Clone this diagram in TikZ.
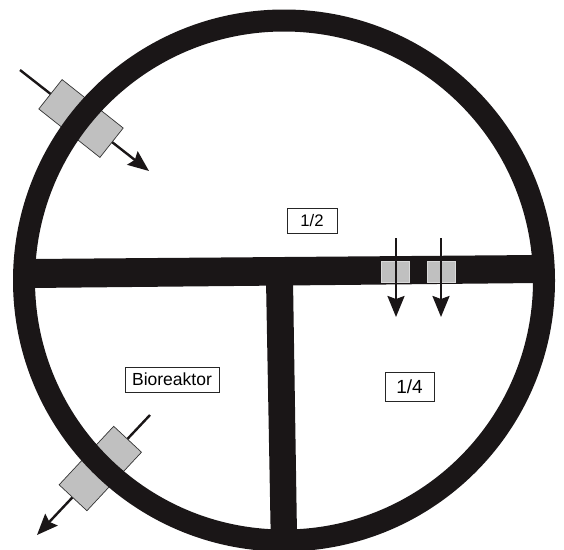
\documentclass[tikz,border=0pt]{standalone}
\usepackage{fontspec}
\setmainfont{Liberation Sans}
\usetikzlibrary{arrows.meta, positioning}
\definecolor{wallcol}{HTML}{1A1617}
\definecolor{portcol}{HTML}{C0C0C0}
\tikzset{
  labelbox/.style={draw=black!85,fill=white,line width=0.8pt,inner sep=0pt},
  portbox/.style={draw=black!80,fill=portcol,line width=0.7pt,inner sep=0pt,minimum width=78pt,minimum height=37.5pt},
  portflat/.style={draw=white!85!black,fill=portcol,line width=1pt,inner sep=0pt,minimum width=28pt,minimum height=21.5pt},
  flowline/.style={draw=wallcol,line width=2.4pt,-{Stealth[length=21pt,width=17pt,inset=3pt]}}
}
\begin{document}
\begin{tikzpicture}[x=1pt,y=1pt]%
  \useasboundingbox (0,-549) rectangle (564,0);
  % diagonal ports, behind the wall
  \coordinate (inA) at (20,-70);
  \coordinate (outA) at (149,-171);
  \coordinate (inB) at (150,-415);
  \coordinate (outB) at (37,-535);
  \draw[flowline] (inA) -- (outA);
  \draw[flowline] (inB) -- (outB);
  \node[portbox,rotate=-38.4] (portA) at (81,-118.5) {};
  \node[portbox,rotate=47,minimum width=80pt,minimum height=38pt] (portB) at (100.3,-468.5) {};
  % reactor wall
  \draw[wallcol,line width=22pt] (284,-280.5) circle (260);
  \fill[wallcol] (30,-259)--(538,-255)--(538,-283)--(30,-288)--cycle;
  \fill[wallcol] (266,-280)--(293,-280)--(297,-535)--(270.7,-535)--cycle;
  % ports in the partition
  \node[portflat] (portC) at (395.5,-272) {};
  \node[portflat] (portD) at (441,-272) {};
  \coordinate (inC) at (396,-238);
  \coordinate (outC) at (396,-317);
  \coordinate (inD) at (441,-238);
  \coordinate (outD) at (441,-317);
  \draw[flowline] (inC) -- (outC);
  \draw[flowline] (inD) -- (outD);
  % labels
  \node[labelbox,minimum width=50pt,minimum height=25pt,font=\fontsize{16.7}{18}\selectfont] (half) at (312,-220.5) {1/2};
  \node[labelbox,minimum width=94pt,minimum height=25pt,font=\fontsize{17.5}{19}\selectfont] (reactor) at (172,-379.5) {Bioreaktor};
  \node[labelbox,minimum width=49pt,minimum height=29pt,font=\fontsize{19}{21}\selectfont] (quarter) at (409.5,-386.5) {1/4};
\end{tikzpicture}
\end{document}
